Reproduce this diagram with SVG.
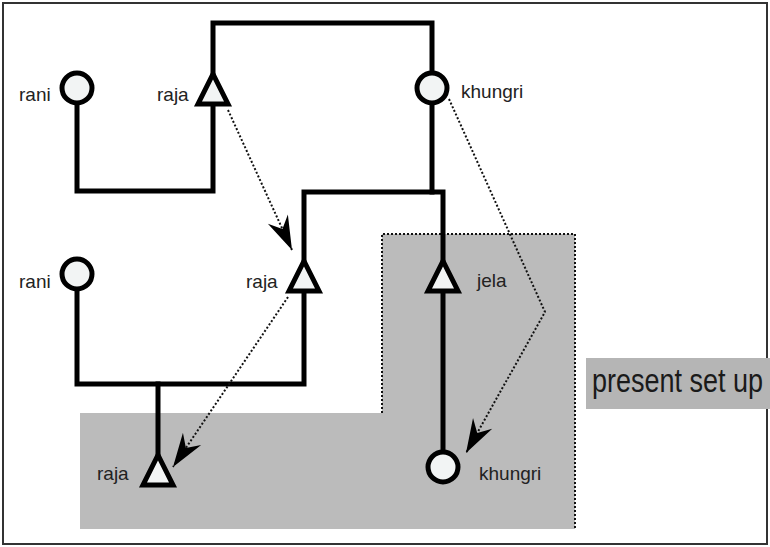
<svg xmlns="http://www.w3.org/2000/svg" width="770" height="547" viewBox="0 0 770 547">
<style>
.lbl{font-family:"Liberation Sans",Arial,sans-serif;font-size:19px;fill:#222}
.wire{fill:none;stroke:#000;stroke-width:5;stroke-linejoin:miter;stroke-linecap:square}
.circ{fill:#f2f4f4;stroke:#000;stroke-width:5}
.tri{fill:#f2f4f4;stroke:#000;stroke-width:5;stroke-linejoin:miter}
.dot{fill:none;stroke:#111;stroke-width:2;stroke-dasharray:2 2}
</style>
<defs>
<marker id="ah" viewBox="-36 -13 38 26" markerWidth="38" markerHeight="26" refX="0" refY="0" orient="auto" markerUnits="userSpaceOnUse">
<path d="M0,0 L-34,-11 L-23,0 L-34,11 Z" fill="#000" stroke="none"/>
</marker>
</defs>
<rect x="0" y="0" width="770" height="547" fill="#fff"/>
<rect x="3" y="3" width="764" height="541" fill="none" stroke="#333" stroke-width="2"/>
<g id="present-area">
<path d="M80,413 H382 V234 H575 V529 H80 Z" fill="#bbbbbb"/>
<path d="M382,413 V234 H575 V529" class="dot"/>
</g>
<g id="present-label">
<rect x="586" y="358" width="184" height="51" fill="#b5b5b5"/>
<text transform="translate(592,392) scale(1,1.2)" x="0" y="0" font-family="Liberation Sans,Arial,sans-serif" font-size="27" fill="#1a1a1a">present set up</text>
</g>
<g id="connectors">
<path class="wire" d="M213,74 V23 H432 V72"/>
<path class="wire" d="M77,104 V191 H213 V104"/>
<path class="wire" d="M432,104 V192"/>
<path class="wire" d="M304,261 V192 H443 V261"/>
<path class="wire" d="M443,291 V451"/>
<path class="wire" d="M304,291 V384 H77 V291"/>
<path class="wire" d="M158,384 V455"/>
<path class="dot" d="M228,110 L292,250" marker-end="url(#ah)"/>
<path class="dot" d="M288,297 L173,467" marker-end="url(#ah)"/>
<path class="dot" d="M449,99 L545,312 L466,453" marker-end="url(#ah)"/>
</g>
<g id="rani1"><circle class="circ" cx="77" cy="88" r="15"/><text class="lbl" x="19" y="101">rani</text></g>
<g id="raja1"><path class="tri" d="M213,74 L228,104 L198,104 Z"/><text class="lbl" x="157" y="101">raja</text></g>
<g id="khungri1"><circle class="circ" cx="432" cy="88" r="15"/><text class="lbl" x="461" y="98">khungri</text></g>
<g id="rani2"><circle class="circ" cx="77" cy="274" r="15"/><text class="lbl" x="19" y="288">rani</text></g>
<g id="raja2"><path class="tri" d="M304,261 L319,291 L289,291 Z"/><text class="lbl" x="246" y="288">raja</text></g>
<g id="jela"><path class="tri" d="M443,261 L458,291 L428,291 Z"/><text class="lbl" x="477" y="287">jela</text></g>
<g id="raja3"><path class="tri" d="M158,455 L173,485 L143,485 Z"/><text class="lbl" x="97" y="480">raja</text></g>
<g id="khungri2"><circle class="circ" cx="443" cy="467" r="15"/><text class="lbl" x="479" y="480">khungri</text></g>
</svg>
